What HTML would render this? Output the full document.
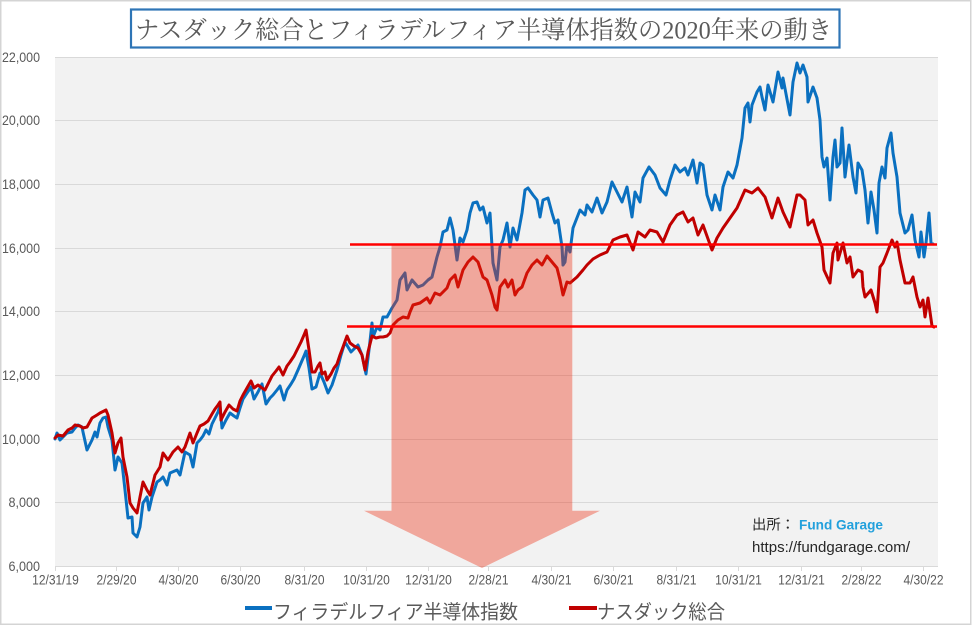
<!DOCTYPE html>
<html>
<head>
<meta charset="utf-8">
<style>
html,body{margin:0;padding:0;background:#fff;}
svg{display:block;}
</style>
</head>
<body>
<svg width="972" height="626" viewBox="0 0 972 626" xmlns="http://www.w3.org/2000/svg">
  <rect x="0" y="0" width="972" height="626" fill="#ffffff"/>
  <rect x="0.75" y="0.75" width="970" height="623.5" fill="none" stroke="#d4d4d4" stroke-width="1.5"/>

  <!-- plot area -->
  <rect x="55" y="57" width="883" height="509.5" fill="#f2f2f2"/>
  <g stroke="#d9d9d9" stroke-width="1">
    <line x1="55" y1="57.5" x2="938" y2="57.5"/>
    <line x1="55" y1="120.5" x2="938" y2="120.5"/>
    <line x1="55" y1="184.5" x2="938" y2="184.5"/>
    <line x1="55" y1="248.5" x2="938" y2="248.5"/>
    <line x1="55" y1="311.5" x2="938" y2="311.5"/>
    <line x1="55" y1="375.5" x2="938" y2="375.5"/>
    <line x1="55" y1="439.5" x2="938" y2="439.5"/>
    <line x1="55" y1="502.5" x2="938" y2="502.5"/>
    <line x1="55" y1="566.5" x2="938" y2="566.5"/>
    <!-- ticks -->
    <line x1="55.5" y1="566" x2="55.5" y2="571"/>
    <line x1="116.5" y1="566" x2="116.5" y2="571"/>
    <line x1="178.5" y1="566" x2="178.5" y2="571"/>
    <line x1="240.5" y1="566" x2="240.5" y2="571"/>
    <line x1="304.5" y1="566" x2="304.5" y2="571"/>
    <line x1="366.5" y1="566" x2="366.5" y2="571"/>
    <line x1="428.5" y1="566" x2="428.5" y2="571"/>
    <line x1="488.5" y1="566" x2="488.5" y2="571"/>
    <line x1="551.5" y1="566" x2="551.5" y2="571"/>
    <line x1="613.5" y1="566" x2="613.5" y2="571"/>
    <line x1="676.5" y1="566" x2="676.5" y2="571"/>
    <line x1="738.5" y1="566" x2="738.5" y2="571"/>
    <line x1="801.5" y1="566" x2="801.5" y2="571"/>
    <line x1="861.5" y1="566" x2="861.5" y2="571"/>
    <line x1="923.5" y1="566" x2="923.5" y2="571"/>
  </g>

  <!-- Y labels -->
  <g font-family="Liberation Sans, sans-serif" font-size="14" fill="#595959" text-anchor="end" lengthAdjust="spacingAndGlyphs">
    <text x="40" y="62" textLength="38" lengthAdjust="spacingAndGlyphs">22,000</text>
    <text x="40" y="125" textLength="38" lengthAdjust="spacingAndGlyphs">20,000</text>
    <text x="40" y="189" textLength="38" lengthAdjust="spacingAndGlyphs">18,000</text>
    <text x="40" y="253" textLength="38" lengthAdjust="spacingAndGlyphs">16,000</text>
    <text x="40" y="316" textLength="38" lengthAdjust="spacingAndGlyphs">14,000</text>
    <text x="40" y="380" textLength="38" lengthAdjust="spacingAndGlyphs">12,000</text>
    <text x="40" y="444" textLength="38" lengthAdjust="spacingAndGlyphs">10,000</text>
    <text x="40" y="507" textLength="31.5" lengthAdjust="spacingAndGlyphs">8,000</text>
    <text x="40" y="571" textLength="31.5" lengthAdjust="spacingAndGlyphs">6,000</text>
  </g>

  <!-- X labels -->
  <g font-family="Liberation Sans, sans-serif" font-size="14" fill="#595959" text-anchor="middle">
    <text x="55.5" y="584.3" textLength="46.7" lengthAdjust="spacingAndGlyphs">12/31/19</text>
    <text x="116.5" y="584.3" textLength="40" lengthAdjust="spacingAndGlyphs">2/29/20</text>
    <text x="178.5" y="584.3" textLength="40" lengthAdjust="spacingAndGlyphs">4/30/20</text>
    <text x="240.5" y="584.3" textLength="40" lengthAdjust="spacingAndGlyphs">6/30/20</text>
    <text x="304.5" y="584.3" textLength="40" lengthAdjust="spacingAndGlyphs">8/31/20</text>
    <text x="366.5" y="584.3" textLength="46.7" lengthAdjust="spacingAndGlyphs">10/31/20</text>
    <text x="428.5" y="584.3" textLength="46.7" lengthAdjust="spacingAndGlyphs">12/31/20</text>
    <text x="488.5" y="584.3" textLength="40" lengthAdjust="spacingAndGlyphs">2/28/21</text>
    <text x="551.5" y="584.3" textLength="40" lengthAdjust="spacingAndGlyphs">4/30/21</text>
    <text x="613.5" y="584.3" textLength="40" lengthAdjust="spacingAndGlyphs">6/30/21</text>
    <text x="676.5" y="584.3" textLength="40" lengthAdjust="spacingAndGlyphs">8/31/21</text>
    <text x="738.5" y="584.3" textLength="46.7" lengthAdjust="spacingAndGlyphs">10/31/21</text>
    <text x="801.5" y="584.3" textLength="46.7" lengthAdjust="spacingAndGlyphs">12/31/21</text>
    <text x="861.5" y="584.3" textLength="40" lengthAdjust="spacingAndGlyphs">2/28/22</text>
    <text x="923.5" y="584.3" textLength="40" lengthAdjust="spacingAndGlyphs">4/30/22</text>
  </g>

  <!-- Blue series (SOX) -->
  <polyline fill="none" stroke="#0a70c0" stroke-width="3" stroke-linejoin="round" stroke-linecap="round"
    points="55,439 57,433 60,440 63,437 67,433 72,432 75,428 78,425 82,427 83,432 87,450 92,440 95,432 97,437 100,423 103,418 106,417 108,427 112,440 115,470 118,457 122,463 125,490 128,518 132,517 133,533 137,537 140,527 143,503 147,497 149,510 152,497 157,482 160,480 163,477 167,485 170,473 177,470 180,475 185,452 190,455 193,467 197,443 200,440 203,436 206,430 209,434 212,424 215,418 218,412 220,406 222,428 226,420 230,413 234,416 237,418 240,408 243,399 247,393 251,387 254,399 258,392 262,384 266,404 270,398 273,395 277,390 280,386 284,400 287,390 291,384 294,379 298,370 301,363 304,356 306,351 309,368 312,389 316,387 320,373 324,382 328,393 332,385 337,370 341,355 345,342 348,347 351,352 355,348 358,345 362,355 366,374 369,350 372,323 373,337 377,327 380,330 383,317 387,317 392,308 397,300 400,280 405,273 407,290 412,280 418,287 423,285 428,280 432,277 437,257 440,247 443,232 447,230 450,218 453,230 457,260 460,238 463,242 467,230 470,213 473,203 477,202 480,210 483,207 487,223 490,213 493,263 497,280 500,247 503,240 507,223 510,247 513,228 517,240 522,213 525,190 528,188 533,195 537,200 540,217 543,200 548,198 552,213 555,223 558,220 562,247 563,265 565,262 567,245 570,252 573,228 580,210 585,215 587,205 592,212 597,198 602,213 607,202 612,182 615,188 622,202 627,187 632,217 635,192 640,202 643,178 649,167 655,175 660,188 666,195 670,180 675,165 680,172 685,168 688,175 693,160 697,183 700,163 703,165 707,195 712,210 715,195 720,210 723,187 728,172 733,178 737,165 742,138 745,108 748,103 750,122 752,105 757,92 760,87 762,97 765,110 768,85 773,102 778,72 782,88 783,78 790,115 793,82 797,63 800,73 803,65 807,77 808,102 813,87 817,98 820,120 822,157 824,167 827,158 830,200 833,157 835,140 837,167 840,163 842,128 845,177 849,145 853,177 856,193 858,163 862,170 865,190 868,223 871,192 874,210 877,233 879,183 882,167 885,178 887,148 891,133 893,153 897,177 900,213 905,233 908,230 912,215 915,240 919,257 921,232 924,257 926,243 929,213 931,243 933,244"/>

  <!-- Red series (Nasdaq) -->
  <polyline fill="none" stroke="#c00000" stroke-width="3" stroke-linejoin="round" stroke-linecap="round"
    points="55,438 58,435 63,436 68,430 72,428 75,425 80,426 83,428 87,427 92,418 97,415 100,413 106,410 108,415 112,433 115,453 118,443 121,438 123,457 127,477 130,503 133,508 137,513 140,497 143,482 147,490 150,495 155,475 160,467 163,453 168,460 173,452 178,447 182,452 185,447 190,433 193,443 197,433 200,426 204,424 208,421 212,414 215,409 218,405 220,402 221,420 225,412 229,405 233,409 237,411 240,401 243,395 247,388 251,381 254,388 258,385 262,388 265,390 269,382 272,376 276,371 279,367 283,375 287,366 290,362 294,356 297,350 301,342 304,335 306,330 309,350 312,372 315,372 318,366 320,363 322,374 325,372 327,380 331,374 334,368 337,364 340,355 343,347 347,336 350,343 354,346 358,348 362,355 365,370 368,352 372,336 376,338 380,337 383,337 387,336 390,333 393,325 398,320 403,317 408,318 410,312 413,305 420,303 427,298 430,303 435,293 440,295 447,288 450,280 455,275 458,287 463,270 468,262 473,257 478,262 483,277 487,280 492,295 495,307 497,310 500,287 505,280 508,287 512,280 515,295 518,290 522,287 527,273 532,265 537,260 542,265 547,256 552,262 557,268 560,280 563,295 567,282 570,283 577,277 583,270 587,265 593,259 600,255 607,252 613,240 620,237 627,235 633,250 638,232 645,237 650,230 657,232 663,242 670,225 677,215 683,212 688,222 693,218 698,235 703,225 712,250 717,238 723,228 730,218 737,208 745,190 752,193 758,188 765,197 772,218 778,198 783,212 790,227 797,195 800,195 805,200 808,225 813,220 817,233 822,247 824,270 830,283 833,253 837,243 838,260 843,243 847,263 850,257 853,277 858,270 862,272 863,287 865,297 871,290 875,303 877,312 880,267 883,263 887,253 892,240 895,247 897,242 900,260 905,283 910,283 913,277 917,297 920,307 923,300 925,317 928,298 932,326 934,327"/>

  <!-- translucent arrow -->
  <polygon points="391.5,244 572.3,244 572.3,510.7 600,510.7 482,568 364,510.7 391.5,510.7" fill="rgb(237,45,15)" fill-opacity="0.38"/>

  <!-- horizontal red reference lines -->
  <line x1="350" y1="244.5" x2="937" y2="244.5" stroke="#ff0000" stroke-width="2.5"/>
  <line x1="347" y1="326.5" x2="937" y2="326.5" stroke="#ff0000" stroke-width="2.5"/>

  <!-- source -->
  <text x="752" y="529.5" font-family="Liberation Sans, 'Noto Sans CJK JP', sans-serif" font-size="14" fill="#262626" textLength="43" lengthAdjust="spacingAndGlyphs">出所：</text>
  <text x="799" y="529.5" font-family="Liberation Sans, sans-serif" font-size="14" font-weight="bold" fill="#22a0dc" textLength="84" lengthAdjust="spacingAndGlyphs">Fund Garage</text>
  <text x="752" y="552" font-family="Liberation Sans, sans-serif" font-size="14.5" fill="#262626" textLength="158" lengthAdjust="spacingAndGlyphs">https://fundgarage.com/</text>

  <!-- title -->
  <rect x="131" y="9.5" width="708.5" height="38" fill="#ffffff" stroke="#2e75b6" stroke-width="2.2"/>
  <text x="135" y="38.5" font-family="'Liberation Serif', 'Noto Serif CJK JP', 'Noto Serif CJK SC', serif" font-size="25" fill="#595959" textLength="697" lengthAdjust="spacingAndGlyphs">ナスダック総合とフィラデルフィア半導体指数の2020年来の動き</text>

  <!-- legend -->
  <line x1="245" y1="608" x2="272" y2="608" stroke="#0a70c0" stroke-width="4"/>
  <text x="273" y="618.5" font-family="'Liberation Sans', 'Noto Sans CJK JP', sans-serif" font-size="19.5" fill="#595959" textLength="245" lengthAdjust="spacingAndGlyphs">フィラデルフィア半導体指数</text>
  <line x1="569" y1="608" x2="597" y2="608" stroke="#c00000" stroke-width="4"/>
  <text x="597" y="618.5" font-family="'Liberation Sans', 'Noto Sans CJK JP', sans-serif" font-size="19.5" fill="#595959" textLength="128" lengthAdjust="spacingAndGlyphs">ナスダック総合</text>
</svg>
</body>
</html>
